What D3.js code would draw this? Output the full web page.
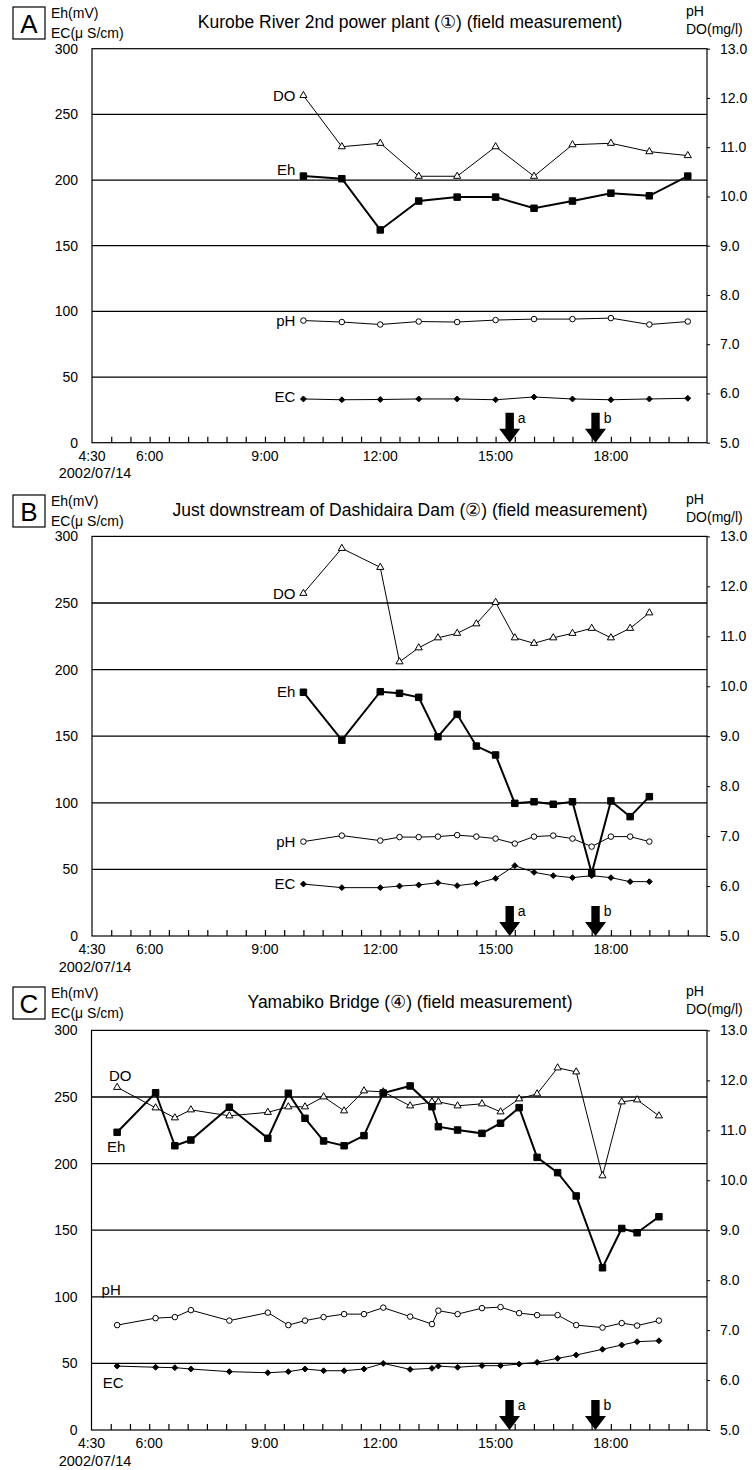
<!DOCTYPE html>
<html><head><meta charset="utf-8">
<script src="https://cdn.jsdelivr.net/npm/d3@7"></script>
<style>
body{margin:0;background:#fff}
text{font-family:"Liberation Sans",Arial,sans-serif;fill:#000}
</style>
</head><body>
<svg id="chart" width="755" height="1470"></svg>
<script>
// ---------- shared axis / tick data ----------
const yTicksLeft = [0, 50, 100, 150, 200, 250, 300];
const gridValues = [50, 100, 150, 200, 250];
const yTicksRight = [5, 6, 7, 8, 9, 10, 11, 12, 13];
const xTickLabels = ["4:30", "6:00", "9:00", "12:00", "15:00", "18:00"];
const xDomain = ["4:30", "20:30"];
const dateLabel = "2002/07/14";
const arrowTimes = ["15:22", "17:36"];
const arrowNames = ["a", "b"];
const seriesNames = ["DO", "Eh", "pH", "EC"];

// ---------- Panel A: Kurobe River 2nd power plant ----------
const titleA = "Kurobe River 2nd power plant (\u2460) (field measurement)";
const timesA = ["10:00","11:00","12:00","13:00","14:00","15:00","16:00","17:00","18:00","19:00","20:00"];
const ehA = [203, 201, 162, 184, 187, 187, 178.5, 184, 190, 188, 203];
const doA = [12.05, 11.01, 11.08, 10.41, 10.41, 11.01, 10.41, 11.05, 11.08, 10.91, 10.83];
const phA = [7.48, 7.45, 7.40, 7.46, 7.45, 7.49, 7.51, 7.51, 7.53, 7.40, 7.46];
const ecA = [33.3, 32.7, 32.9, 33.3, 33.3, 32.7, 34.8, 33.3, 32.7, 33.3, 33.8];

// ---------- Panel B: Just downstream of Dashidaira Dam ----------
const titleB = "Just downstream of Dashidaira Dam (\u2461) (field measurement)";
const timesB = ["10:00","11:00","12:00","12:30","13:00","13:30","14:00","14:30","15:00","15:30","16:00","16:30","17:00","17:30","18:00","18:30","19:00"];
const ehB = [183, 147, 183.4, 182.2, 179.2, 149.6, 166.4, 142.6, 135.9, 99.6, 100.8, 98.9, 100.8, 47.1, 101.4, 89.6, 104.6];
const doB = [11.86, 12.76, 12.38, 10.49, 10.77, 10.97, 11.06, 11.25, 11.68, 10.97, 10.86, 10.97, 11.06, 11.16, 10.97, 11.16, 11.47];
const phB = [6.89, 7.01, 6.91, 6.98, 6.98, 6.99, 7.02, 6.99, 6.95, 6.85, 6.99, 7.01, 6.95, 6.79, 6.99, 6.99, 6.89];
const ecB = [39, 36.3, 36.3, 37.5, 38.3, 40, 37.8, 39.5, 43.3, 52.8, 47.8, 45.3, 43.8, 45.3, 43.8, 40.8, 40.8];

// ---------- Panel C: Yamabiko Bridge ----------
const titleC = "Yamabiko Bridge (\u2463) (field measurement)";
const timesC = ["5:10","6:10","6:40","7:05","8:05","9:05","9:37","10:03","10:32","11:04","11:35","12:05","12:47","13:21","13:31","14:01","14:39","15:08","15:37","16:05","16:37","17:06","17:47","18:17","18:41","19:15"];
const ehC = [223.5, 253.2, 213.4, 217.7, 242.3, 219, 252.8, 234, 217, 213.4, 221, 253, 258.3, 242.7, 227.7, 225.2, 222.7, 230.3, 242, 204.7, 193.2, 175.7, 121.8, 151.3, 148.1, 160.1];
const doC = [11.86, 11.45, 11.25, 11.41, 11.29, 11.36, 11.47, 11.47, 11.67, 11.39, 11.79, 11.77, 11.49, 11.57, 11.57, 11.49, 11.53, 11.37, 11.63, 11.73, 12.25, 12.17, 10.09, 11.57, 11.61, 11.29];
const phC = [7.10, 7.24, 7.26, 7.40, 7.19, 7.35, 7.10, 7.19, 7.26, 7.32, 7.32, 7.45, 7.27, 7.12, 7.39, 7.32, 7.44, 7.46, 7.34, 7.30, 7.30, 7.10, 7.05, 7.14, 7.09, 7.19];
const ecC = [48, 47.1, 46.8, 45.8, 43.8, 43, 43.8, 45.8, 44.5, 44.5, 45.8, 50, 45.5, 46.3, 48, 47.1, 48.3, 48.3, 49.5, 50.8, 53.8, 56.3, 60.6, 63.8, 66.3, 67];

// ---------- layout ----------
const hrs = s => { const [h, m] = s.split(":").map(Number); return h + m / 60; };

const panels = [
  { letter: "A", title: titleA, times: timesA, eh: ehA, dO: doA, ph: phA, ec: ecA,
    left: 92, right: 707, top: 48.7, bottom: 442.7, headY: 0,
    lab: { DO: [-8, 0, "end"], Eh: [-8, -6, "end"], pH: [-8, 0, "end"], EC: [-8, -2, "end"] } },
  { letter: "B", title: titleB, times: timesB, eh: ehB, dO: doB, ph: phB, ec: ecB,
    left: 92, right: 707, top: 536.4, bottom: 936, headY: 488,
    lab: { DO: [-8, 0, "end"], Eh: [-8, 0, "end"], pH: [-8, 0, "end"], EC: [-8, 0, "end"] } },
  { letter: "C", title: titleC, times: timesC, eh: ehC, dO: doC, ph: phC, ec: ecC,
    left: 91.5, right: 707, top: 1030.4, bottom: 1430, headY: 980,
    lab: { DO: [3, -12, "middle"], Eh: [-1, 14.5, "middle"], pH: [-6, -35, "middle"], EC: [-4, 17, "middle"] } }
];

const svg = d3.select("#chart");

panels.forEach(p => {
  const g = svg.append("g");
  const x = d3.scaleLinear().domain(xDomain.map(hrs)).range([p.left, p.right]);
  const yL = d3.scaleLinear().domain([yTicksLeft[0], yTicksLeft[yTicksLeft.length - 1]]).range([p.bottom, p.top]);
  const yR = d3.scaleLinear().domain([yTicksRight[0], yTicksRight[yTicksRight.length - 1]]).range([p.bottom, p.top]);

  // header
  const hy = p.headY;
  g.append("rect").attr("x", 13).attr("y", hy + 7).attr("width", 32).attr("height", 32)
    .attr("fill", "none").attr("stroke", "#000").attr("stroke-width", 1.2);
  g.append("text").attr("x", 29).attr("y", hy + 32.5).attr("text-anchor", "middle")
    .attr("font-size", 26).text(p.letter);
  g.append("text").attr("x", 51).attr("y", hy + 18).attr("font-size", 14).text("Eh(mV)");
  g.append("text").attr("x", 51).attr("y", hy + 38).attr("font-size", 14).text("EC(\u03bc S/cm)");
  g.append("text").attr("x", 410).attr("y", hy + 27.5).attr("text-anchor", "middle")
    .attr("font-size", 17.5).text(p.title);
  g.append("text").attr("x", 686).attr("y", hy + 16).attr("font-size", 14).text("pH");
  g.append("text").attr("x", 686).attr("y", hy + 34).attr("font-size", 14).text("DO(mg/l)");

  // gridlines
  g.selectAll(".grid").data(gridValues).join("line")
    .attr("x1", p.left).attr("x2", p.right)
    .attr("y1", d => yL(d)).attr("y2", d => yL(d))
    .attr("stroke", "#000").attr("stroke-width", 1.3);

  // frame
  g.append("rect").attr("x", p.left).attr("y", p.top)
    .attr("width", p.right - p.left).attr("height", p.bottom - p.top)
    .attr("fill", "none").attr("stroke", "#000").attr("stroke-width", 1.2);

  // left axis
  const la = g.append("g").attr("transform", `translate(${p.left},0)`)
    .call(d3.axisLeft(yL).tickValues(yTicksLeft).tickSize(0).tickPadding(14));
  la.select(".domain").remove();
  la.selectAll("text").attr("font-size", 14).attr("font-family", "Liberation Sans, Arial, sans-serif");

  // right axis
  const ra = g.append("g").attr("transform", `translate(${p.right},0)`)
    .call(d3.axisRight(yR).tickValues(yTicksRight).tickFormat(d3.format(".1f")).tickSize(3).tickPadding(10));
  ra.select(".domain").remove();
  ra.selectAll("text").attr("font-size", 14).attr("font-family", "Liberation Sans, Arial, sans-serif");

  // bottom axis: ticks every 30 min, labels on selected
  const tickVals = d3.range(hrs(xDomain[0]) + 0.5, hrs(xDomain[1]), 0.5);
  const xa = g.append("g").attr("transform", `translate(0,${p.bottom})`)
    .call(d3.axisBottom(x).tickValues(tickVals).tickSize(-6).tickFormat(() => ""));
  xa.select(".domain").remove();
  xa.selectAll("line").attr("stroke-width", 1.2);
  g.selectAll(".xl").data(xTickLabels).join("text")
    .attr("x", d => x(hrs(d))).attr("y", p.bottom + 18)
    .attr("text-anchor", "middle").attr("font-size", 14).text(d => d);
  g.append("text").attr("x", 95).attr("y", p.bottom + 35.5).attr("text-anchor", "middle")
    .attr("font-size", 14.5).text(dateLabel);

  // series
  const rows = p.times.map((t, i) => ({ t: hrs(t), eh: p.eh[i], dO: p.dO[i], ph: p.ph[i], ec: p.ec[i] }));
  const defs = [
    { key: "dO", name: "DO", y: yR, sw: 1, sym: d3.symbolTriangle, size: 22, fill: "#fff" },
    { key: "eh", name: "Eh", y: yL, sw: 2, sym: d3.symbolSquare, size: 42, fill: "#000" },
    { key: "ph", name: "pH", y: yR, sw: 1, sym: d3.symbolCircle, size: 24, fill: "#fff" },
    { key: "ec", name: "EC", y: yL, sw: 1, sym: d3.symbolDiamond2, size: 22, fill: "#000" }
  ];
  defs.forEach(s => {
    const line = d3.line().x(d => x(d.t)).y(d => s.y(d[s.key]));
    g.append("path").datum(rows).attr("d", line)
      .attr("fill", "none").attr("stroke", "#000").attr("stroke-width", s.sw);
    g.selectAll(null).data(rows).join("path")
      .attr("transform", d => `translate(${x(d.t)},${s.y(d[s.key])})`)
      .attr("d", d3.symbol().type(s.sym).size(s.size))
      .attr("fill", s.fill).attr("stroke", "#000").attr("stroke-width", 1);
    const o = p.lab[s.name];
    g.append("text")
      .attr("x", x(rows[0].t) + o[0]).attr("y", s.y(rows[0][s.key]) + o[1])
      .attr("dy", "0.35em").attr("text-anchor", o[2]).attr("font-size", 15).text(s.name);
  });

  // arrows
  arrowTimes.forEach((t, i) => {
    const ax = x(hrs(t)), b = p.bottom;
    g.append("path")
      .attr("d", `M${ax - 4.2},${b - 30} L${ax + 4.2},${b - 30} L${ax + 4.2},${b - 14} L${ax + 10.5},${b - 14} L${ax},${b} L${ax - 10.5},${b - 14} L${ax - 4.2},${b - 14} Z`)
      .attr("fill", "#000");
    g.append("text").attr("x", ax + 12).attr("y", b - 25).attr("dy", "0.35em")
      .attr("text-anchor", "middle").attr("font-size", 14).text(arrowNames[i]);
  });
});
</script>
</body></html>
